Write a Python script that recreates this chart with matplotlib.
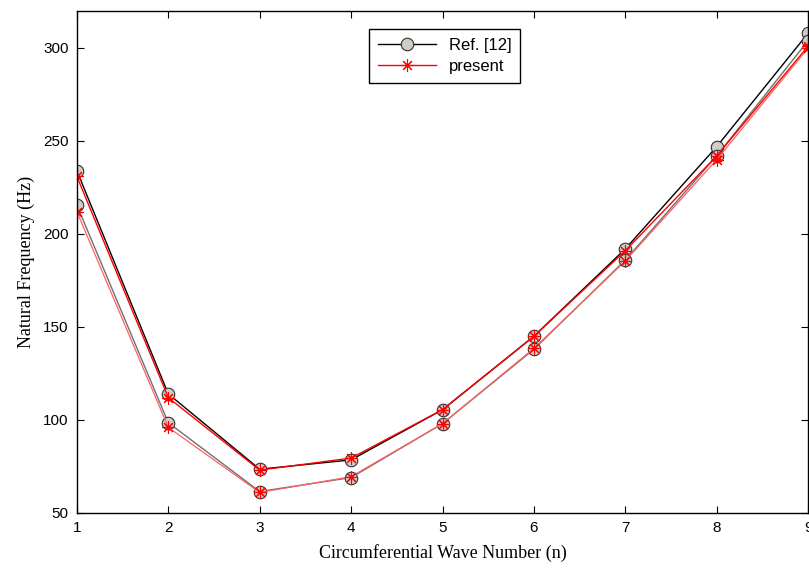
import matplotlib
matplotlib.use('Agg')
import matplotlib.pyplot as plt

n = [1, 2, 3, 4, 5, 6, 7, 8, 9]

ref_hi = [234, 114, 73.5, 78.5, 105.5, 145, 192, 247, 308]
ref_lo = [215.5, 98.5, 61.5, 69, 98, 138, 186, 242, 304]
pres_hi = [231, 112, 73, 79.5, 105.5, 145, 191, 242, 301]
pres_lo = [212, 96, 61, 69.5, 98, 138.5, 185.5, 240, 300]

fig = plt.figure(figsize=(8.09, 5.68), dpi=100)
ax = fig.add_axes([0.095, 0.097, 0.904, 0.884])

circ = dict(marker='o', markersize=9, markerfacecolor='#d0ccc8',
            markeredgecolor='#303030', markeredgewidth=0.8)
star = dict(marker=(8, 2, 0), markersize=9, markeredgewidth=0.8)

ax.plot(n, ref_hi, color='black', lw=1.0, label='Ref. [12]', **circ)
ax.plot(n, ref_lo, color='#707070', lw=1.0, **circ)
ax.plot(n, pres_hi, color='red', lw=1.0, markeredgecolor='red',
        label='present', **star)
ax.plot(n, pres_lo, color='#ff6060', lw=0.9, markeredgecolor='red', **star)

ax.set_xlim(1, 9)
ax.set_ylim(50, 320)
ax.set_xticks(n)
ax.set_yticks([50, 100, 150, 200, 250, 300])
ax.tick_params(direction='in', top=True, right=True, length=5,
               labelsize=11, pad=6)
for lab in ax.get_xticklabels() + ax.get_yticklabels():
    lab.set_family('Liberation Sans')
for s in ax.spines.values():
    s.set_linewidth(1.0)

ax.set_xlabel('Circumferential Wave Number (n)', family='Liberation Serif',
              fontsize=13, labelpad=6)
ax.set_ylabel('Natural Frequency (Hz)', family='Liberation Serif',
              fontsize=13, labelpad=6)

leg = ax.legend(loc='upper center', bbox_to_anchor=(0.503, 0.98),
                prop={'family': 'Liberation Sans', 'size': 12},
                fancybox=False, framealpha=1, edgecolor='black',
                handlelength=3.5, borderpad=0.5, labelspacing=0.4)
leg.get_frame().set_linewidth(1.0)

fig.savefig('out.png', dpi=100)
